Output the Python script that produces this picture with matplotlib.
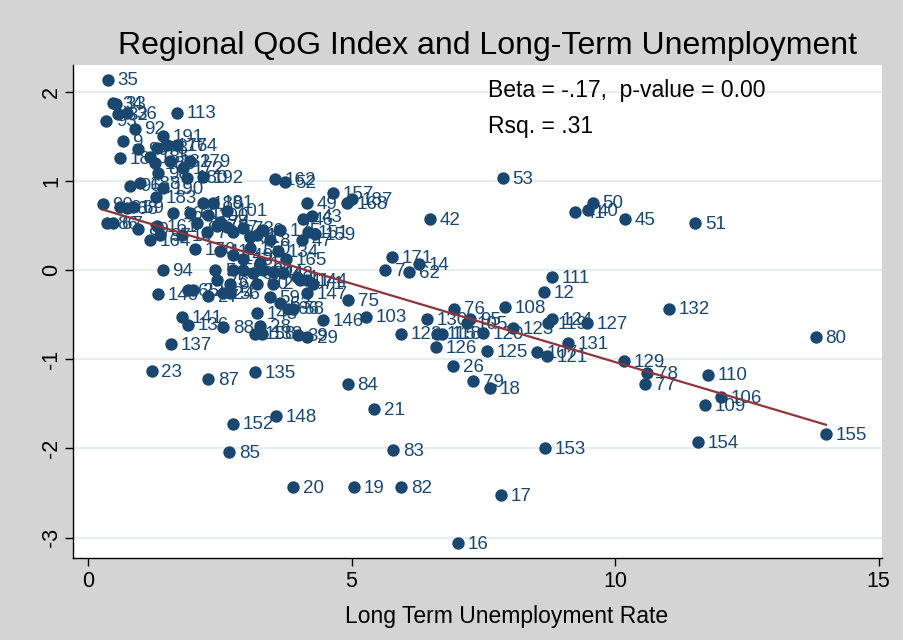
import matplotlib.pyplot as plt
import numpy as np

plt.rcParams['font.family'] = ['Liberation Sans', 'DejaVu Sans']

# region id, long term unemployment rate, QoG index
labels = [
    '35', '34', '33', '93', '32', '36', '113', '92', '191', '9',
    '18', '99', '78', '176', '174', '182', '185', '186', '179', '172',
    '98', '180', '192', '96', '188', '183', '190', '90', '91', '68',
    '69', '86', '67', '89', '161', '164', '97', '163', '61', '81',
    '170', '189', '181', '94', '140', '141', '136', '137', '23', '87',
    '135', '152', '148', '85', '20', '19', '82', '16', '17', '83',
    '153', '21', '84', '18', '79', '26', '126', '125', '107', '121',
    '131', '129', '78', '77', '110', '106', '109', '154', '155', '80',
    '132', '127', '124', '119', '12', '111', '108', '123', '120', '76',
    '105', '95', '130', '122', '118', '115', '103', '146', '75', '147',
    '144', '41', '165', '47', '151', '159', '175', '46', '43', '49',
    '157', '168', '187', '162', '52', '53', '42', '171', '7', '62',
    '14', '41', '40', '50', '45', '51', '63', '58', '66', '145',
    '28', '158', '138', '88', '39', '29', '24', '56', '65', '22',
    '27', '59', '5', '55', '3', '37', '30', '44', '48', '4',
    '71', '25', '64', '60', '2', '11', '13', '15', '70', '72',
    '74', '57', '54', '73', '31', '1', '6', '8', '10', '101',
    '100', '150', '149', '134',
]
ltu_rate = [
    0.38, 0.47, 0.53, 0.34, 0.57, 0.74, 1.69, 0.89, 1.42, 0.66,
    0.61, 0.95, 1.31, 1.50, 1.69, 1.56, 1.18, 1.27, 1.94, 1.80,
    1.33, 1.88, 2.18, 0.80, 0.99, 1.29, 1.42, 0.28, 0.61, 0.74,
    0.85, 0.36, 0.47, 0.95, 1.31, 1.18, 1.37, 1.61, 1.94, 2.07,
    2.03, 2.18, 2.37, 1.42, 1.33, 1.78, 1.90, 1.57, 1.21, 2.28,
    3.17, 2.75, 3.57, 2.68, 3.89, 5.05, 5.94, 7.02, 7.84, 5.79,
    8.67, 5.43, 4.93, 7.63, 7.31, 6.93, 6.60, 7.57, 8.52, 8.71,
    9.11, 10.17, 10.61, 10.57, 11.76, 12.01, 11.71, 11.57, 14.00, 13.81,
    11.02, 9.47, 8.80, 8.73, 8.65, 8.80, 7.91, 8.06, 7.50, 6.94,
    7.19, 7.25, 6.43, 5.94, 6.72, 6.62, 5.28, 4.46, 4.93, 4.16,
    4.16, 4.02, 3.76, 4.06, 4.17, 4.31, 3.64, 4.08, 4.25, 4.16,
    4.65, 4.91, 5.01, 3.55, 3.74, 7.87, 6.49, 5.77, 5.64, 6.09,
    6.28, 9.24, 9.49, 9.58, 10.19, 11.52, 3.64, 3.89, 3.80, 3.21,
    3.26, 3.17, 3.30, 2.56, 3.98, 4.16, 2.56, 2.69, 1.90, 1.99,
    2.28, 3.45, 2.41, 2.75, 2.94, 3.13, 3.32, 3.51, 3.70, 3.97,
    4.27, 2.45, 2.69, 3.21, 3.51, 2.50, 2.94, 3.26, 2.26, 2.45,
    2.50, 2.64, 2.75, 2.94, 3.07, 3.21, 3.32, 3.45, 1.78, 2.64,
    2.28, 3.07, 2.75, 3.61,
]
qog_index = [
    2.14, 1.88, 1.87, 1.68, 1.75, 1.76, 1.77, 1.59, 1.51, 1.45,
    1.26, 1.36, 1.37, 1.40, 1.40, 1.23, 1.27, 1.20, 1.23, 1.15,
    1.09, 1.04, 1.05, 0.95, 0.98, 0.82, 0.92, 0.74, 0.71, 0.70,
    0.71, 0.53, 0.53, 0.46, 0.50, 0.34, 0.39, 0.64, 0.64, 0.53,
    0.24, 0.75, 0.76, 0.00, -0.27, -0.53, -0.61, -0.83, -1.13, -1.22,
    -1.14, -1.72, -1.64, -2.04, -2.43, -2.43, -2.43, -3.06, -2.52, -2.02,
    -2.00, -1.56, -1.28, -1.32, -1.24, -1.08, -0.86, -0.91, -0.92, -0.96,
    -0.82, -1.02, -1.15, -1.28, -1.17, -1.42, -1.51, -1.93, -1.84, -0.75,
    -0.43, -0.59, -0.55, -0.59, -0.24, -0.08, -0.41, -0.65, -0.70, -0.43,
    -0.59, -0.55, -0.55, -0.71, -0.71, -0.71, -0.52, -0.56, -0.33, -0.26,
    -0.11, -0.11, 0.13, 0.34, 0.43, 0.41, 0.45, 0.57, 0.61, 0.75,
    0.87, 0.75, 0.80, 1.02, 0.99, 1.03, 0.57, 0.15, 0.00, -0.02,
    0.07, 0.65, 0.68, 0.76, 0.57, 0.53, -0.37, -0.43, -0.43, -0.48,
    -0.63, -0.71, -0.71, -0.64, -0.73, -0.75, -0.26, -0.26, -0.22, -0.22,
    -0.29, -0.30, 0.00, 0.00, 0.00, -0.03, 0.00, -0.02, -0.03, -0.08,
    -0.15, -0.11, -0.15, -0.15, -0.15, 0.22, 0.13, 0.08, 0.43, 0.50,
    0.54, 0.48, 0.43, 0.47, 0.37, 0.39, 0.45, 0.34, 0.39, 0.67,
    0.62, 0.25, 0.17, 0.22,
]

# linear fit as drawn in the chart
fit_intercept = 0.73
fit_slope = -0.176

x_ticks = [0, 5, 10, 15]
y_ticks = [-3, -2, -1, 0, 1, 2]

navy = '#1a476f'
maroon = '#90353b'
grid_col = '#e6eef0'

fig = plt.figure(figsize=(9.04, 6.4), dpi=100)
fig.patch.set_facecolor('#d4d4d4')
ax = fig.add_axes([0.081, 0.128, 0.895, 0.77])
ax.set_facecolor('white')

for yt in y_ticks:
    ax.axhline(yt, color=grid_col, linewidth=1.5, zorder=0)

ax.scatter(ltu_rate, qog_index, s=80, color=navy, zorder=3, linewidths=0)
for lab, xv, yv in zip(labels, ltu_rate, qog_index):
    ax.annotate(lab, (xv, yv), xytext=(7, -1), textcoords='offset points',
                ha='left', va='center', fontsize=13.5, color=navy, zorder=4)

fx = np.array([min(ltu_rate), max(ltu_rate)])
ax.plot(fx, fit_intercept + fit_slope * fx, color=maroon, linewidth=1.6, zorder=5)

ax.text(7.59, 2.02, 'Beta = -.17,  p-value = 0.00', fontsize=16.5, va='center', ha='left')
ax.text(7.59, 1.61, 'Rsq. = .31', fontsize=16.5, va='center', ha='left')

ax.set_xlim(-0.28, 15.07)
ax.set_ylim(-3.23, 2.30)
ax.set_xticks(x_ticks)
ax.set_yticks(y_ticks)
ax.set_yticklabels([str(t) for t in y_ticks], rotation=90, va='center')
ax.tick_params(direction='out', length=6, width=1, labelsize=15.5, colors='black')
ax.tick_params(axis='y', pad=2)
for s in ['top', 'right']:
    ax.spines[s].set_visible(False)
for s in ['left', 'bottom']:
    ax.spines[s].set_color('black')
    ax.spines[s].set_linewidth(1)

ax.set_xlabel('Long Term Unemployment Rate', fontsize=16.5, labelpad=10)
ax.xaxis.set_label_coords(0.536, -0.095)
fig.text(0.539, 0.928, 'Regional QoG Index and Long-Term Unemployment',
         fontsize=23, ha='center', va='center')

fig.savefig('out.png', dpi=100, facecolor=fig.get_facecolor())
